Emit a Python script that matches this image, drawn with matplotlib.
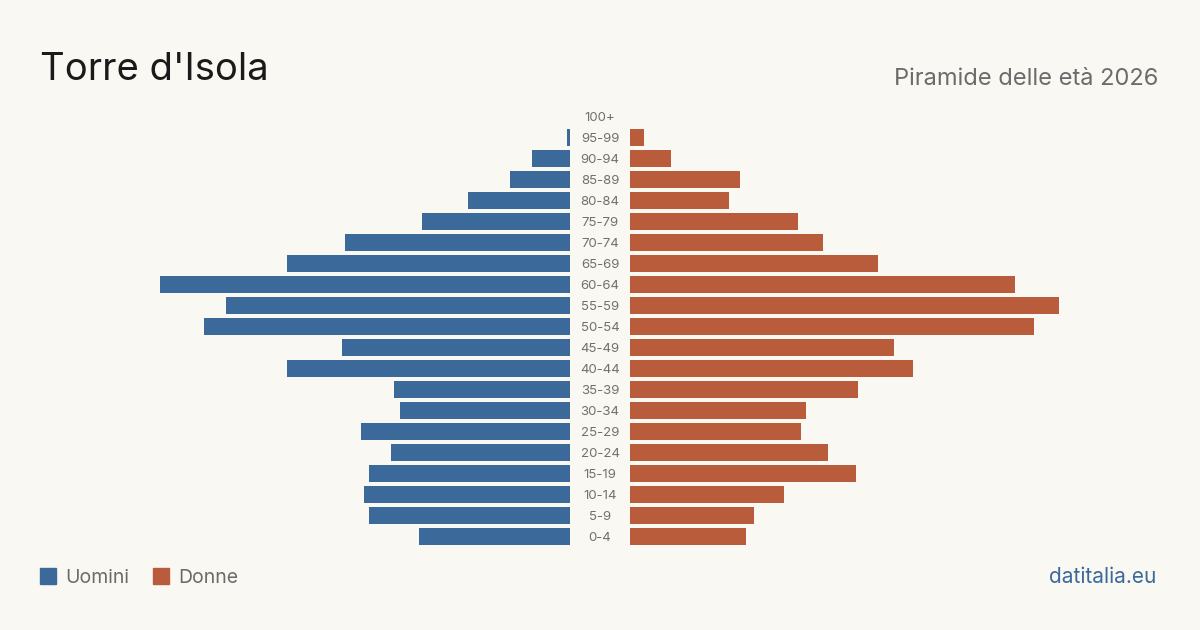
import matplotlib.pyplot as plt
from matplotlib.patches import Rectangle
from matplotlib.transforms import blended_transform_factory

# dati (dal basso verso l'alto)
eta = ['0-4', '5-9', '10-14', '15-19', '20-24', '25-29', '30-34', '35-39',
       '40-44', '45-49', '50-54', '55-59', '60-64', '65-69', '70-74', '75-79',
       '80-84', '85-89', '90-94', '95-99', '100+']
uomini = [55, 73, 75, 73, 65, 76, 62, 64, 103, 83, 133, 125, 149, 103, 82, 54,
          37, 22, 14, 1, 0]
donne = [42, 45, 56, 82, 72, 62, 64, 83, 103, 96, 147, 156, 140, 90, 70, 61,
         36, 40, 15, 5, 0]

bg = '#f9f8f3'
blu = '#3b6a9a'
arancio = '#b85c3c'

plt.rcParams['font.family'] = ['Inter', 'DejaVu Sans']

W, H = 1200, 630
fig = plt.figure(figsize=(W / 100, H / 100), dpi=100, facecolor=bg)

scale = 2.75  # pixel per persona
top_px, bot_px = 106, 547
y0 = (H - bot_px) / H
hh = (bot_px - top_px) / H

# asse sinistro (uomini)
l_left = 130
ax_l = fig.add_axes([l_left / W, y0, (570 - l_left) / W, hh])
ax_l.set_xlim((570 - l_left) / scale, 0)
# asse destro (donne)
r_right = 1100
ax_r = fig.add_axes([630 / W, y0, (r_right - 630) / W, hh])
ax_r.set_xlim(0, (r_right - 630) / scale)

pos = list(range(len(eta)))
ax_l.barh(pos, uomini, height=0.81, color=blu)
ax_r.barh(pos, donne, height=0.81, color=arancio)

for ax in (ax_l, ax_r):
    ax.set_ylim(-0.5, len(eta) - 0.5)
    ax.axis('off')
    ax.set_facecolor('none')

tr = blended_transform_factory(fig.transFigure, ax_l.transData)
for i, e in enumerate(eta):
    fig.text(0.5, i - 0.06, e, transform=tr, ha='center', va='center',
             fontsize=9.5, color='#707070')

# titoli
fig.text(40 / W, 1 - 80 / H, "Torre d'Isola", fontsize=27.5, color='#1a1a1a',
         ha='left', va='baseline')
fig.text(1158 / W, 1 - 85 / H, 'Piramide delle età 2026', fontsize=17,
         color='#6b6b6b', ha='right', va='baseline')

# legenda
fig.patches.append(Rectangle((40 / W, 1 - 584 / H), 16 / W, 16 / H,
                             transform=fig.transFigure, color=blu))
fig.text(65 / W, 1 - 583 / H, 'Uomini', fontsize=14, color='#6b6b6b',
         ha='left', va='baseline')
fig.patches.append(Rectangle((153 / W, 1 - 584 / H), 16 / W, 16 / H,
                             transform=fig.transFigure, color=arancio))
fig.text(178 / W, 1 - 583 / H, 'Donne', fontsize=14, color='#6b6b6b',
         ha='left', va='baseline')

fig.text(1156 / W, 1 - 583 / H, 'datitalia.eu', fontsize=15, color='#3b6a9a',
         ha='right', va='baseline')

fig.savefig('out.png', dpi=100, facecolor=bg)
plt.close()
